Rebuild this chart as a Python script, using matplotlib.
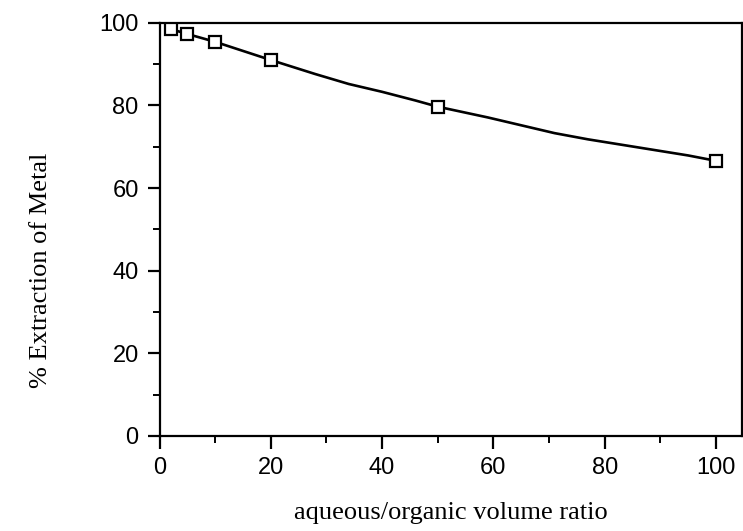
import matplotlib
matplotlib.use("Agg")
import matplotlib.pyplot as plt
from matplotlib.ticker import MultipleLocator

# measured points (squares)
ratio = [2, 5, 10, 20, 50, 100]
extraction = [98.5, 97.3, 95.4, 91.0, 79.7, 66.6]

# hand-drawn smooth curve
curve_x = [2, 5, 10, 20, 28, 34, 40, 46, 50, 59, 65, 71, 77, 83, 89, 95, 100]
curve_y = [98.5, 97.3, 95.4, 91.0, 87.6, 85.2, 83.3, 81.2, 79.7, 77.1, 75.2,
           73.3, 71.8, 70.5, 69.2, 67.9, 66.6]

xticks = [0, 20, 40, 60, 80, 100]
yticks = [0, 20, 40, 60, 80, 100]

fig = plt.figure(figsize=(7.43, 5.31), dpi=100)
ax = fig.add_axes([0.2147, 0.179, 0.7833, 0.778])

ax.plot(curve_x, curve_y, "-", color="black", lw=1.9)
ax.plot(ratio, extraction, "s", ms=8.5, mfc="white", mec="black", mew=1.6, zorder=3)

ax.set_xlim(0, 104.6)
ax.set_ylim(0, 100)
ax.set_xticks(xticks)
ax.set_yticks(yticks)
ax.xaxis.set_minor_locator(MultipleLocator(10))
ax.yaxis.set_minor_locator(MultipleLocator(10))
ax.tick_params(which="major", direction="out", length=9, width=1.6,
               labelsize=17, pad=6)
ax.tick_params(which="minor", direction="out", length=5, width=1.4)
for lab in ax.get_xticklabels() + ax.get_yticklabels():
    lab.set_family("Liberation Sans")
for s in ax.spines.values():
    s.set_linewidth(1.6)

ax.set_xlabel("aqueous/organic volume ratio", family="Liberation Serif",
              fontsize=19, labelpad=17)
ax.set_ylabel("% Extraction of Metal", family="Liberation Serif", fontsize=19)
ax.yaxis.set_label_coords(-0.185, 0.40)

fig.savefig("out.png", dpi=100)
